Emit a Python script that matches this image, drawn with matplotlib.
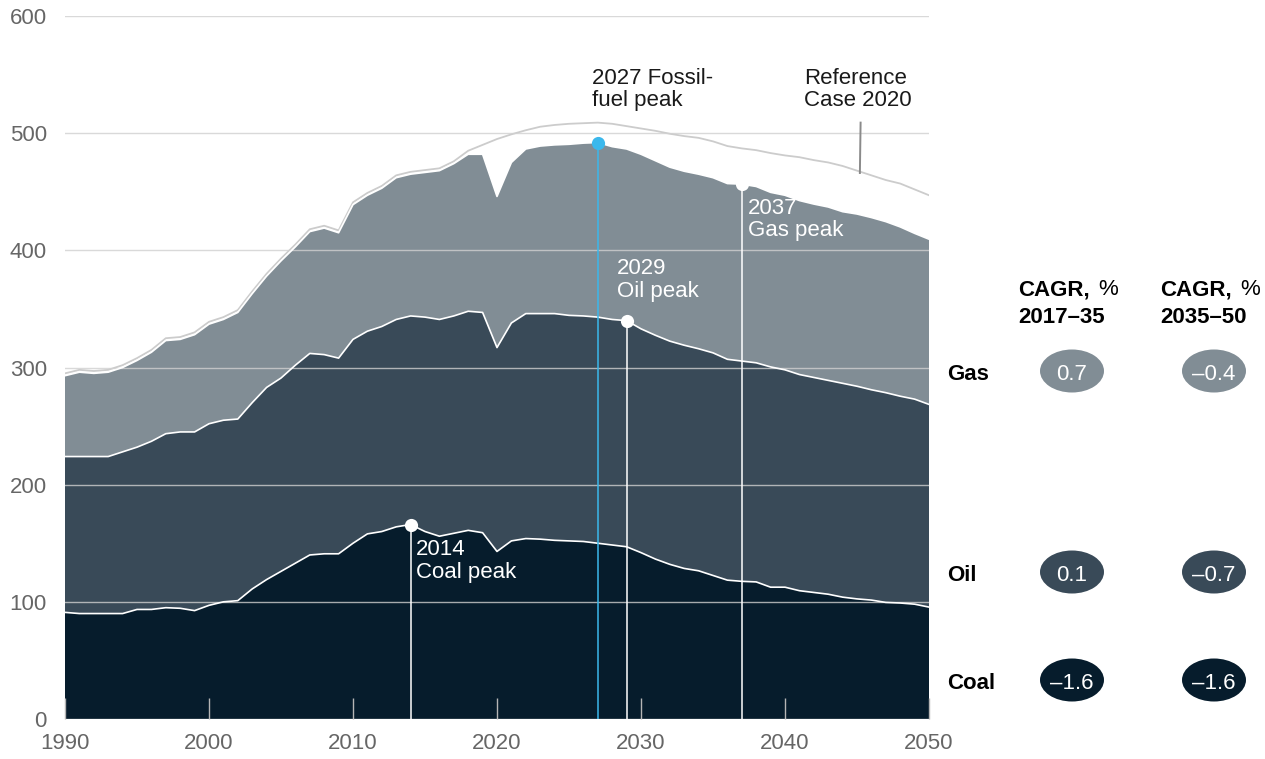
import matplotlib.pyplot as plt
import numpy as np
from matplotlib.patches import Ellipse

# Fossil-fuel demand by fuel, 1990-2050 (stacked: coal, oil, gas)
years = list(range(1990, 2051))
coal = [91, 90, 90, 90, 90, 93.5, 93.5, 95, 94.5, 92.5,
        97, 100, 101, 111, 119, 126, 133, 140, 141, 141,
        150, 158, 160, 164, 166, 160, 156, 158.5, 161, 159,
        143, 152, 154, 153.5, 152.5, 152, 151.5, 150, 148.5, 147,
        142, 136.5, 132, 128.5, 126.5, 122.5, 118.5, 117.5, 117, 112.5,
        112.5, 109.5, 108, 106.5, 104, 102.5, 101.5, 99.5, 99, 98,
        95.5]
oil = [133, 134, 134, 134, 138, 138.5, 143.5, 148.5, 150.5, 152.5,
       155, 155, 155, 159, 164, 165, 169, 172, 170, 167,
       174, 173, 175, 177, 178, 183, 185, 185.5, 187, 188,
       174, 186, 192, 192.5, 193.5, 192.5, 192.5, 193, 192.5, 193,
       191, 191, 190.5, 190.5, 189.5, 190, 188.5, 188, 187, 188,
       185.5, 184.5, 183.5, 182.5, 182.5, 181.5, 179.5, 179, 176.5, 175,
       173]
gas = [69, 72, 71, 72, 72, 74, 76, 79.5, 79, 83,
       85, 86, 91, 93, 95, 100, 101, 104, 108, 107,
       115, 116, 118, 121, 121, 123.5, 127, 130, 134, 135,
       129, 137, 140.5, 143, 144, 146, 147.5, 149, 147.5, 146.5,
       149, 149, 148.5, 148.5, 149, 149.5, 150, 151, 150.5, 149,
       149, 148.5, 148, 148, 146.5, 147, 147, 146, 144.5, 141.5,
       141]
reference_2020 = [295, 298, 297, 298, 302, 308, 315, 325, 326, 330,
                  339, 343, 349, 365, 380, 393, 405, 418, 421, 417,
                  441, 449, 455, 464, 467, 468.5, 470, 476, 485, 490,
                  495, 499, 502.5, 505.5, 507, 508, 508.5, 509, 508, 506,
                  504, 502, 499.5, 497.5, 496, 493, 489, 487, 485.5, 483,
                  481, 479.5, 477, 475, 472, 468, 464, 460, 457, 452,
                  447]

fuels = ["Gas", "Oil", "Coal"]
cagr_2017_35 = ["0.7", "0.1", "\u20131.6"]
cagr_2035_50 = ["\u20130.4", "\u20130.7", "\u20131.6"]

COAL_C = "#061c2c"
OIL_C = "#394a58"
GAS_C = "#818d95"
BLUE = "#3bb8ec"
fuel_colors = [GAS_C, OIL_C, COAL_C]

plt.rcParams["font.family"] = ["Liberation Sans", "DejaVu Sans"]

W, H = 1265, 759
fig = plt.figure(figsize=(W / 100, H / 100), dpi=100)
ax = fig.add_axes([65 / W, 40 / H, 864 / W, 703 / H])

x = np.array(years)
coal_top = np.array(coal)
oil_top = coal_top + np.array(oil)
gas_top = oil_top + np.array(gas)

ax.stackplot(x, coal, oil, gas, colors=[COAL_C, OIL_C, GAS_C], linewidth=0, zorder=1)
ax.plot(x, reference_2020, color="#cccccc", lw=1.3, zorder=2)
for top in (coal_top, oil_top, gas_top):
    ax.plot(x, top, color="white", lw=1.2, zorder=3)

ax.set_xlim(1990, 2050)
ax.set_ylim(0, 600)
ax.set_yticks(range(0, 601, 100))
ax.set_xticks(range(1990, 2051, 10))
ax.grid(axis="y", color="#d0d0d0", lw=1, alpha=0.8, zorder=4)
ax.set_axisbelow(False)
ax.tick_params(axis="y", length=0, pad=13, labelsize=16, labelcolor="#666666")
ax.tick_params(axis="x", direction="in", length=15, width=1, color="#b5b5b5",
               pad=10, labelsize=16, labelcolor="#666666")
for s in ax.spines.values():
    s.set_visible(False)


def peak(year, tops, color, size=90):
    i = years.index(year)
    ax.plot([year, year], [0, tops[i]], color=color, lw=1.1, zorder=6)
    ax.scatter([year], [tops[i]], s=size, color=color, zorder=7, linewidths=0)


peak(2027, gas_top, BLUE)
peak(2029, oil_top, "white")
peak(2037, gas_top, "white")
peak(2014, coal_top, "white")

txt = dict(fontsize=16, va="top", ha="left", linespacing=1.1, zorder=8)
ax.text(2026.6, 556, "2027 Fossil-\nfuel peak", color="#1a1a1a", **txt)
ax.text(2041.35, 556, "Reference\nCase 2020", color="#1a1a1a", **txt)
ax.text(2037.4, 445, "2037\nGas peak", color="white", **txt)
ax.text(2028.35, 393.5, "2029\nOil peak", color="white", **txt)
ax.text(2014.4, 153.5, "2014\nCoal peak", color="white", **txt)
ax.plot([2045.25, 2045.2], [509, 466], color="#8a8a8a", lw=1.4, zorder=8)


# CAGR panel on the right
def fy(px):
    return 1 - px / H


for cx, txt_pct in ((1018, 1098), (1160, 1240)):
    fig.text(cx / W, fy(295), "CAGR,", fontsize=16, fontweight="bold", color="black")
    fig.text(txt_pct / W, fy(295), "%", fontsize=16, color="black")
fig.text(1018 / W, fy(323), "2017\u201335", fontsize=16, fontweight="bold", color="black")
fig.text(1160 / W, fy(323), "2035\u201350", fontsize=16, fontweight="bold", color="black")

row_centers = [371, 572, 680]
for name, c1, c2, col, yc in zip(fuels, cagr_2017_35, cagr_2035_50, fuel_colors, row_centers):
    base = yc + 9
    fig.text(947 / W, fy(base), name, fontsize=16, fontweight="bold", color="black")
    for xc, val in ((1072, c1), (1214, c2)):
        fig.add_artist(Ellipse((xc / W, fy(yc)), 64 / W, 43 / H,
                               transform=fig.transFigure, color=col, lw=0))
        fig.text(xc / W, fy(base), val, fontsize=16, color="white", ha="center")

fig.savefig("out.png", dpi=100)
